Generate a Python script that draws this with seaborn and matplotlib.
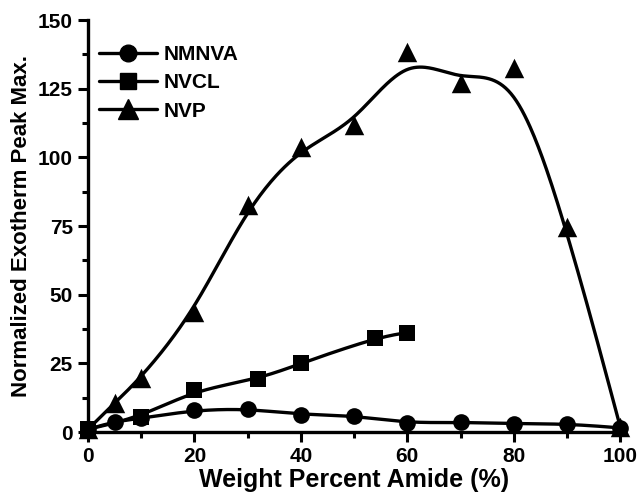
import numpy as np
import pandas as pd
import matplotlib
matplotlib.use("Agg")
import matplotlib.pyplot as plt
from matplotlib.lines import Line2D
from matplotlib.ticker import MultipleLocator
import seaborn as sns

# ---- data ----
nmnva_x = [0, 5, 10, 20, 30, 40, 50, 60, 70, 80, 90, 100]
nmnva_y = [1.0, 3.8, 5.0, 8.0, 8.5, 6.3, 6.0, 3.2, 3.6, 3.0, 3.0, 1.5]

nvcl_x = [0, 10, 20, 32, 40, 54, 60]
nvcl_y = [1.0, 5.5, 15.3, 19.2, 25.0, 34.3, 36.2]

nvp_x = [0, 5, 10, 20, 30, 40, 50, 60, 70, 80, 90, 100]
nvp_y = [1.0, 10.6, 19.8, 43.6, 82.6, 103.8, 111.7, 138.3, 127.0, 132.5, 74.5, 2.0]

series_names = ["NMNVA", "NVCL", "NVP"]
x_ticks = [0, 20, 40, 60, 80, 100]
y_ticks = [0, 25, 50, 75, 100, 125, 150]


def bspline(xs, ys, n=40):
    """Clamped uniform cubic B-spline using the data points as control points."""
    P = np.column_stack([xs, ys]).astype(float)
    P = np.vstack([P[0], P[0], P, P[-1], P[-1]])
    t = np.linspace(0, 1, n)
    b0 = (1 - t) ** 3 / 6
    b1 = (3 * t ** 3 - 6 * t ** 2 + 4) / 6
    b2 = (-3 * t ** 3 + 3 * t ** 2 + 3 * t + 1) / 6
    b3 = t ** 3 / 6
    out = []
    for i in range(len(P) - 3):
        seg = (b0[:, None] * P[i] + b1[:, None] * P[i + 1]
               + b2[:, None] * P[i + 2] + b3[:, None] * P[i + 3])
        out.append(seg)
    out = np.vstack(out)
    return out[:, 0], out[:, 1]


sns.set_style("ticks")
plt.rcParams["font.family"] = ["Liberation Sans", "DejaVu Sans"]
plt.rcParams["font.weight"] = "bold"
for key in ["text.color", "axes.labelcolor", "xtick.color", "ytick.color",
            "axes.edgecolor"]:
    plt.rcParams[key] = "black"

fig = plt.figure(figsize=(6.38, 4.94), dpi=100)
ax = fig.add_axes([0.138, 0.1255, 0.834, 0.834])

markers = {"NMNVA": "o", "NVCL": "s", "NVP": "^"}
msizes = {"NMNVA": 12, "NVCL": 11, "NVP": 14}
data = {"NMNVA": (nmnva_x, nmnva_y), "NVCL": (nvcl_x, nvcl_y), "NVP": (nvp_x, nvp_y)}

for name in series_names:
    xs, ys = data[name]
    cx, cy = bspline(xs, ys)
    curve = pd.DataFrame({"x": cx, "y": cy})
    sns.lineplot(data=curve, x="x", y="y", sort=False, estimator=None,
                 color="black", linewidth=2.4, ax=ax, clip_on=False)
    pts = pd.DataFrame({"x": xs, "y": ys})
    sns.scatterplot(data=pts, x="x", y="y", marker=markers[name],
                    s=msizes[name] ** 2, color="black", edgecolor="black",
                    linewidth=0, ax=ax, clip_on=False, zorder=5)

ax.set_xlim(0, 100)
ax.set_ylim(0, 150)
ax.set_xticks(x_ticks)
ax.set_yticks(y_ticks)
ax.xaxis.set_minor_locator(MultipleLocator(10))
ax.yaxis.set_minor_locator(MultipleLocator(12.5))
ax.tick_params(which="major", direction="out", length=7, width=2.2,
               labelsize=15, pad=4, colors="black")
ax.tick_params(which="minor", direction="out", length=4, width=2.2, colors="black")
for lab in ax.get_xticklabels() + ax.get_yticklabels():
    lab.set_fontweight("bold")

for side in ["top", "right"]:
    ax.spines[side].set_visible(False)
for side in ["left", "bottom"]:
    ax.spines[side].set_linewidth(2.4)
    ax.spines[side].set_color("black")

ax.set_xlabel("Weight Percent Amide (%)", fontsize=18, fontweight="bold",
              labelpad=1, color="black")
ax.set_ylabel("Normalized Exotherm Peak Max.", fontsize=16, fontweight="bold",
              labelpad=4, color="black")

handles = [Line2D([0], [0], color="black", lw=2.4, marker=markers[n],
                  markersize=msizes[n], markerfacecolor="black",
                  markeredgecolor="black") for n in series_names]
leg = ax.legend(handles, series_names, loc="upper left",
                bbox_to_anchor=(0.005, 0.96), frameon=False,
                prop={"weight": "bold", "size": 15}, handlelength=2.8,
                handletextpad=0.3, labelspacing=0.45, borderaxespad=0)
for txt in leg.get_texts():
    txt.set_color("black")

fig.savefig("out.png", dpi=100)
